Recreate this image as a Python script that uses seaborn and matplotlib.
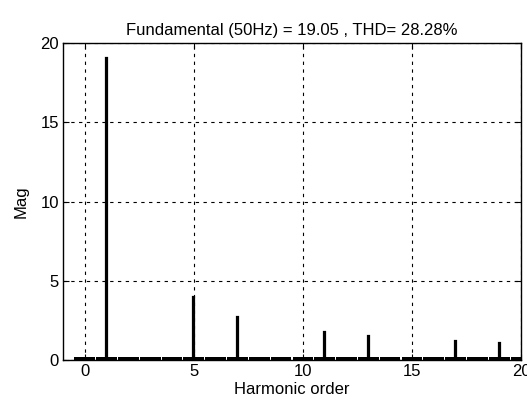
import numpy as np
import pandas as pd
import matplotlib
matplotlib.use('Agg')
import matplotlib.pyplot as plt
import seaborn as sns

# harmonic spectrum
harmonic = list(range(0, 21))
mag = [0, 19.05, 0, 0, 0, 3.98, 0, 2.72, 0, 0, 0, 1.78, 0, 1.5, 0, 0, 0, 1.18, 0, 1.1, 0]
floor = [0.16] * 21

title_txt = 'Fundamental (50Hz) = 19.05 , THD= 28.28%'
x_ticks = [0, 5, 10, 15, 20]
y_ticks = [0, 5, 10, 15, 20]

sns.set_theme(style='white')
plt.rcParams['font.family'] = ['Liberation Sans', 'DejaVu Sans']

df = pd.DataFrame({'harmonic': harmonic, 'mag': mag, 'floor': floor})

fig = plt.figure(figsize=(5.27, 4.12), dpi=100)
ax = fig.add_axes([0.1195, 0.1262, 0.8691, 0.7694])

sns.barplot(data=df, x='harmonic', y='floor', native_scale=True, width=0.95,
            color='black', saturation=1, ax=ax, zorder=3, linewidth=0)
sns.barplot(data=df, x='harmonic', y='mag', native_scale=True, width=0.06,
            color='black', saturation=1, ax=ax, zorder=3,
            edgecolor='black', linewidth=1.6)

ax.set_xlim(-1, 20)
ax.set_ylim(0, 20)
ax.set_xticks(x_ticks)
ax.set_yticks(y_ticks)
ax.set_xticklabels([str(t) for t in x_ticks], fontsize=12)
ax.set_yticklabels([str(t) for t in y_ticks], fontsize=12)
ax.tick_params(direction='in', length=4, width=0.8, colors='black', pad=3,
               top=True, right=True, bottom=True, left=True)
ax.grid(True, color='black', linestyle=(0, (3, 4)), linewidth=0.8, zorder=1)
for s in ax.spines.values():
    s.set_color('black')
    s.set_linewidth(1.0)
    s.set_zorder(4)
ax.set_xlabel('Harmonic order', fontsize=12, color='black', labelpad=2)
ax.set_ylabel('Mag', fontsize=12, color='black', labelpad=8)
ax.set_title(title_txt, fontsize=12, color='black', pad=6)

fig.savefig('out.png', dpi=100)
